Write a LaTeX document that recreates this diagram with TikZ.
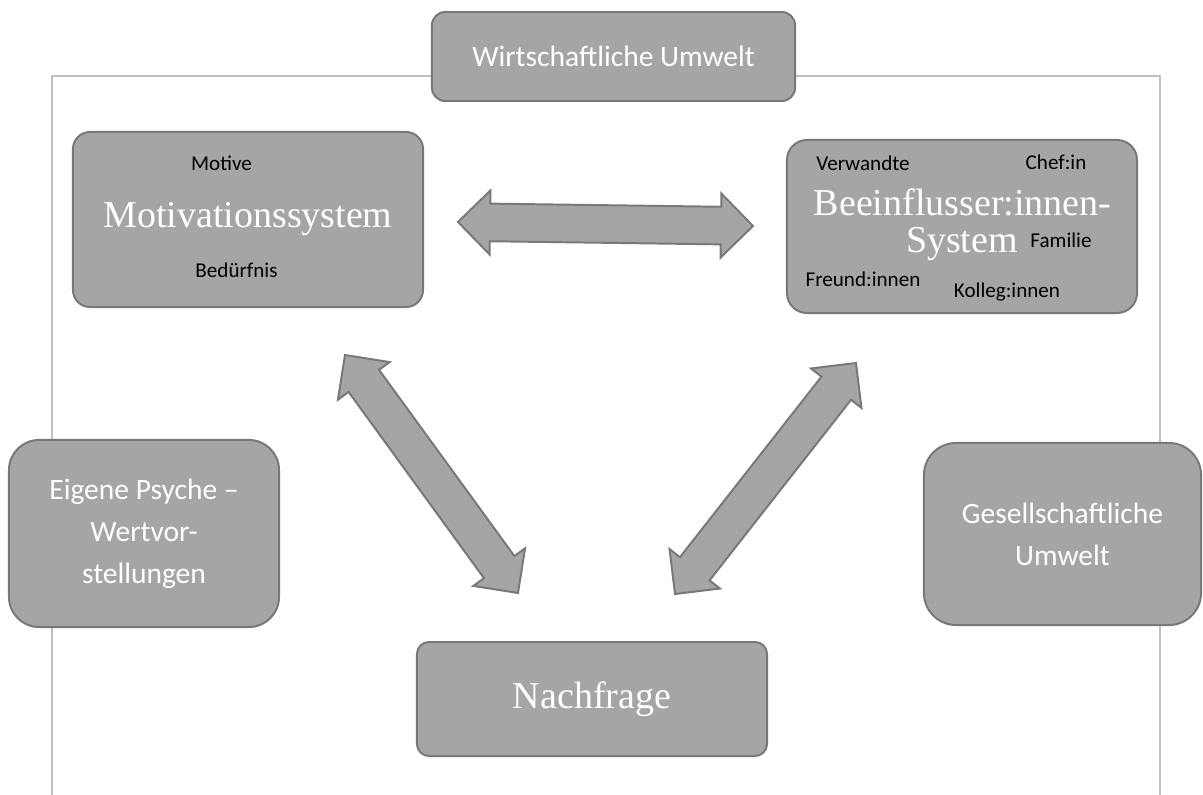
\documentclass[tikz,border=0pt]{standalone}
\usepackage{fontspec}
\setmainfont{Liberation Serif}
\setsansfont{Carlito}
\usetikzlibrary{calc}

\definecolor{boxfill}{HTML}{A5A5A5}
\definecolor{boxline}{HTML}{787878}
\definecolor{frameline}{HTML}{C0C0C0}

% arrow head length, head half width, shaft half width
\newcommand{\arrhl}{0.8cm}
\newcommand{\arrhw}{0.8cm}
\newcommand{\arrsw}{0.47cm}

% fat double arrow between two named points, #3 is a prefix for helper points
\newcommand{\fatarrow}[3]{%
  \coordinate (#3s) at ($(#1)!\arrhl!(#2)$);
  \coordinate (#3e) at ($(#2)!\arrhl!(#1)$);
  \draw [fatarrow] (#1)
    -- ($(#3s)!\arrhw!90:(#2)$)  -- ($(#3s)!\arrsw!90:(#2)$)
    -- ($(#3e)!\arrsw!-90:(#1)$) -- ($(#3e)!\arrhw!-90:(#1)$)
    -- (#2)
    -- ($(#3e)!\arrhw!90:(#1)$)  -- ($(#3e)!\arrsw!90:(#1)$)
    -- ($(#3s)!\arrsw!-90:(#2)$) -- ($(#3s)!\arrhw!-90:(#2)$)
    -- cycle;}

\tikzset{
  box/.style       = {draw=boxline, fill=boxfill, line width=1.4pt, inner sep=0pt},
  fatarrow/.style  = {draw=boxline, fill=boxfill, line width=1.4pt, line join=miter},
  frame/.style     = {draw=frameline, line width=1.2pt},
  bigtext/.style   = {text=white, font=\fontsize{27}{26.2}\selectfont, inner sep=0pt},
  sidetext/.style  = {text=white, font=\sffamily\fontsize{21}{29.8}\selectfont, align=center},
  smalltext/.style = {text=black, font=\sffamily\fontsize{15}{18}\selectfont, inner sep=0pt, anchor=base}
}

\begin{document}
\begin{tikzpicture}[x=0.025cm, y=-0.025cm]

        \useasboundingbox (0,0) rectangle (1203,795);

        %Outer frame
        \draw [frame] (52,795) -- (52,76) -- (1160,76) -- (1160,795);

        %Environment boxes
        \node [box, sidetext, rounded corners=0.33cm, minimum width=9.075cm, minimum height=2.225cm]
              (wirtschaft) at (613.5,56.5)  {Wirtschaftliche Umwelt};
        \node [box, sidetext, rounded corners=0.75cm, minimum width=6.75cm,  minimum height=4.675cm]
              (psyche)     at (144,533.5)   {Eigene Psyche --\\Wertvor-\\stellungen};
        \node [box, sidetext, rounded corners=0.8cm,  minimum width=6.925cm, minimum height=4.55cm]
              (gesellschaft) at (1062.5,534) {Gesellschaftliche\\Umwelt};

        %Motivation system
        \node [box, rounded corners=0.425cm, minimum width=8.75cm, minimum height=4.375cm]
              (motivbox) at (248,219.5) {};
        \node [smalltext]         (motive)    at (221.5,170) {Motive};
        \node [bigtext, anchor=base] (motivsys) at (248,227) {Motivationssystem};
        \node [smalltext]         (beduerfnis) at (236.5,277) {Bedürfnis};

        %Influencer system
        \node [box, rounded corners=0.5cm, minimum width=8.75cm, minimum height=4.325cm]
              (einflussbox) at (962,226.5) {};
        \node [bigtext, anchor=base] (einfluss1) at (962.5,215) {Beeinflusser:innen-};
        \node [bigtext, anchor=base] (einfluss2) at (962,252)   {System};
        \node [smalltext] (verwandte) at (863,170)  {Verwandte};
        \node [smalltext] (chefin)    at (1056,169) {Chef:in};
        \node [smalltext] (familie)   at (1061,247) {Familie};
        \node [smalltext] (freunde)   at (863,286)  {Freund:innen};
        \node [smalltext] (kollegen)  at (1007,297) {Kolleg:innen};

        %Demand
        \node [box, bigtext, rounded corners=0.3cm, minimum width=8.75cm, minimum height=2.85cm]
              (nachfrage) at (592,699) {Nachfrage};

        %Double arrows
        \coordinate (hl)  at (458,222);
        \coordinate (hr)  at (753,226);
        \coordinate (dlt) at (345,355);
        \coordinate (dlb) at (518,593);
        \coordinate (drb) at (675,594);
        \coordinate (drt) at (856,363);

        \fatarrow{hl}{hr}{ha}
        \fatarrow{dlt}{dlb}{la}
        \fatarrow{drb}{drt}{ra}

\end{tikzpicture}
\end{document}
